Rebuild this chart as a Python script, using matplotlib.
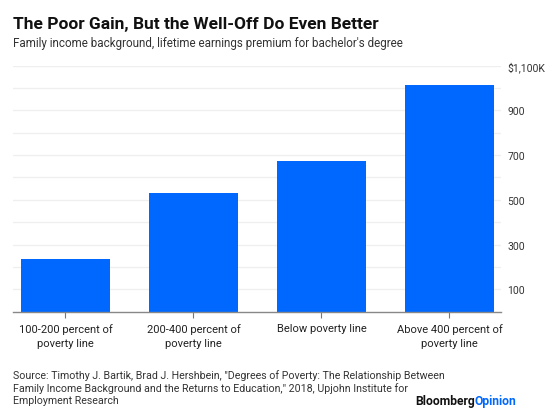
import matplotlib.pyplot as plt
import numpy as np

# lifetime earnings premium for bachelor's degree, thousands of dollars
categories = ['100-200 percent of\npoverty line', '200-400 percent of\npoverty line',
              'Below poverty line', 'Above 400 percent of\npoverty line']
premium = [236, 532, 675, 1015]
grid_values = list(range(100, 1200, 100))
tick_values = [100, 300, 500, 700, 900, 1100]
tick_labels = ['100', '300', '500', '700', '900', '$1,100K']
source_lines = [
    'Source: Timothy J. Bartik, Brad J. Hershbein, "Degrees of Poverty: The Relationship Between',
    'Family Income Background and the Returns to Education," 2018, Upjohn Institute for',
    'Employment Research',
]

blue = '#0068ff'
plt.rcParams['font.family'] = ['Roboto', 'DejaVu Sans']

fig = plt.figure(figsize=(5.6, 4.14), dpi=100)
ax = fig.add_axes([0.0232, 0.2447, 0.8708, 0.5943])

x = np.arange(len(categories))
ax.bar(x, premium, width=0.695, color=blue, zorder=2)

for g in grid_values:
    ax.axhline(g, color='#efefef', lw=0.9, zorder=1)

ax.set_xlim(-0.41, 3.40)
ax.set_ylim(0, 1100)

ax.yaxis.tick_right()
ax.set_yticks(tick_values)
ax.set_yticklabels(tick_labels, fontsize=7.5, color='#333333')
ax.tick_params(axis='y', length=0, pad=5)

ax.set_xticks(x)
ax.set_xticklabels(categories, fontsize=8, color='#222222', linespacing=1.55)
ax.tick_params(axis='x', length=4, color='#777777', width=0.8, pad=4)

for s in ['top', 'left', 'right']:
    ax.spines[s].set_visible(False)
ax.spines['bottom'].set_color('#888888')
ax.spines['bottom'].set_linewidth(1.0)

fig.text(0.0232, 0.942, 'The Poor Gain, But the Well-Off Do Even Better',
         fontsize=12.5, fontweight='bold', color='#111111', va='center')
fig.text(0.0232, 0.896, "Family income background, lifetime earnings premium for bachelor's degree",
         fontsize=8.4, color='#333333', va='center')

# one text per source line so the short last line sits clear of the logo
for i, line in enumerate(source_lines):
    fig.text(0.0232, 0.092 - i * 0.0305, line, fontsize=7.7, color='#333333', va='center')

t1 = fig.text(0.741, 0.031, 'Bloomberg', fontsize=8.7, fontweight='bold', color='#111111', va='center')
fig.canvas.draw()
bb = t1.get_window_extent()
x1 = bb.x1 / fig.bbox.width
fig.text(x1, 0.031, 'Opinion', fontsize=8.7, fontweight='bold', color=blue, va='center')

fig.savefig('out.png', dpi=100)
